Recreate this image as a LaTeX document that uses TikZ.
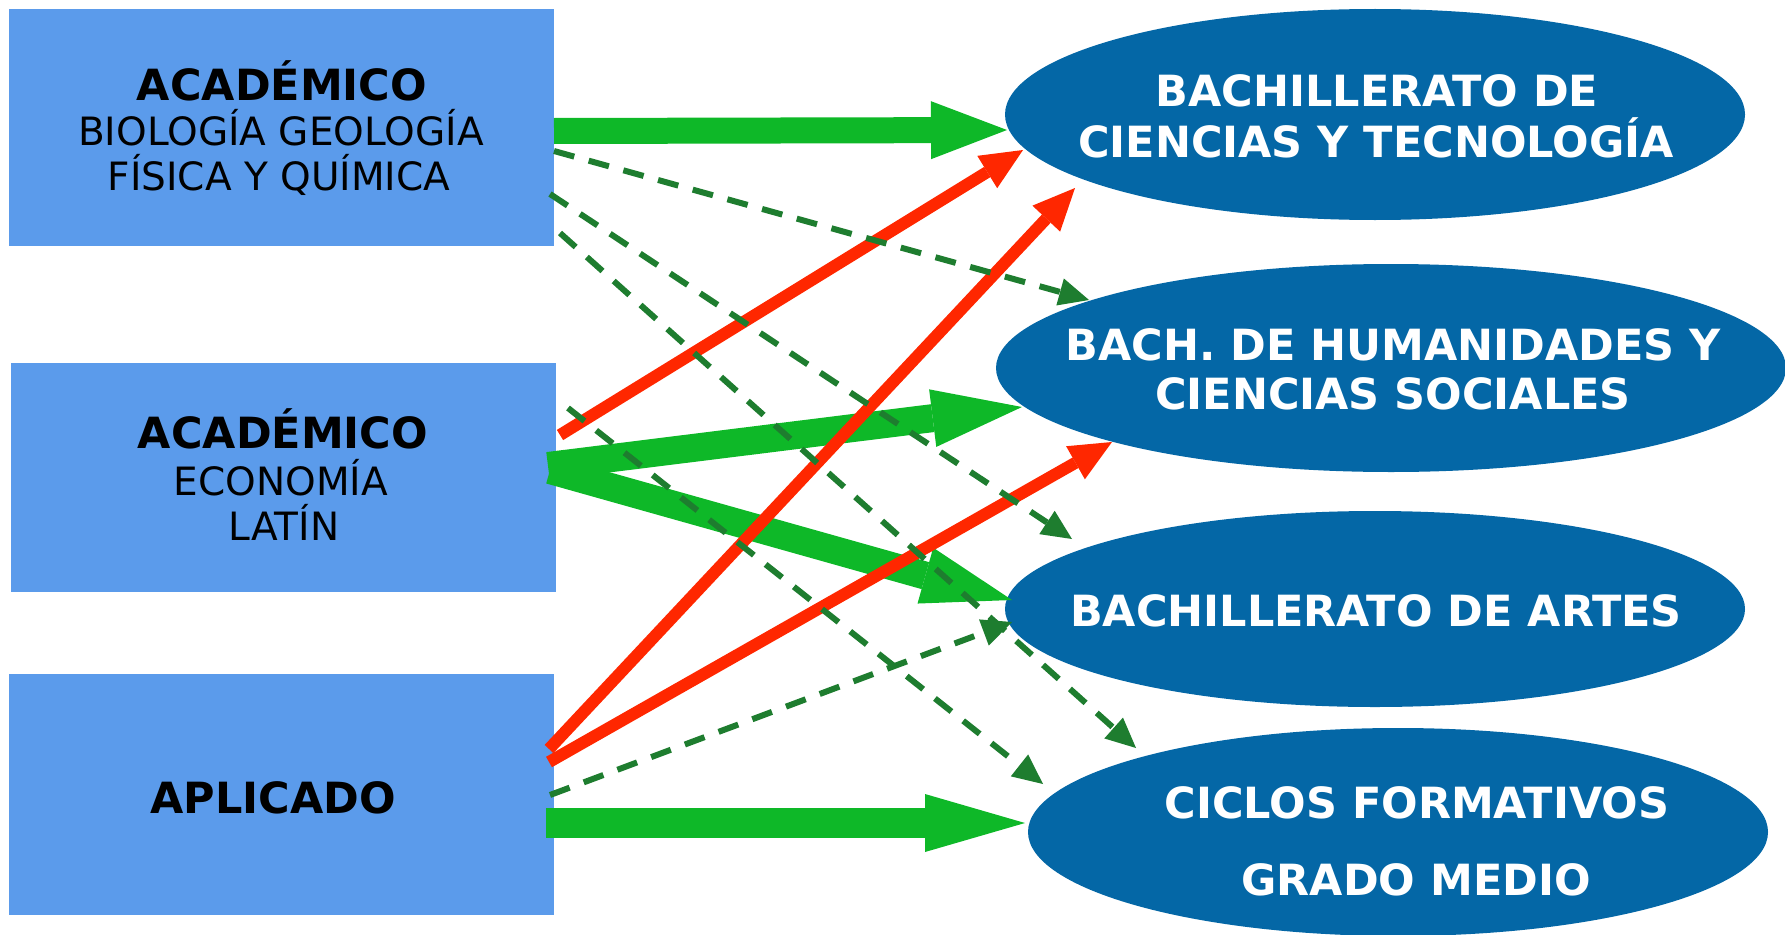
\documentclass[tikz,border=0pt]{standalone}
\usepackage{fontspec}
\setmainfont{DejaVu Sans}
\usetikzlibrary{arrows.meta,shapes.geometric}
\definecolor{boxblue}{RGB}{91,155,235}
\definecolor{ellblue}{RGB}{4,103,166}
\definecolor{arrred}{RGB}{255,39,0}
\definecolor{dashgreen}{RGB}{30,125,47}
\definecolor{thickgreen}{RGB}{14,184,40}
\begin{document}
\begin{tikzpicture}[x=1pt,y=-1pt,
  boxnode/.style={rectangle, fill=boxblue, inner sep=0pt, outer sep=0pt},
  ellnode/.style={ellipse, fill=ellblue, inner sep=0pt, outer sep=0pt},
  titletext/.style={anchor=base, inner sep=0pt, font=\fontsize{43}{45}\selectfont\bfseries},
  subtext/.style={anchor=base, inner sep=0pt, font=\fontsize{39}{45}\selectfont},
  elltext/.style={anchor=base, inner sep=0pt, text=white, font=\fontsize{43}{50}\selectfont\bfseries},
  thickarrow/.style={draw=thickgreen, line width=28pt, -{Triangle[length=#1,width=58pt,line width=0pt]}},
  thickarrow/.default=90pt,
  redarrow/.style={draw=arrred, line width=12pt, -{Triangle[length=42pt,width=38pt,line width=0pt]}},
  dasharrow/.style={draw=dashgreen, line width=6pt, dash pattern=on 21pt off 15pt, -{Triangle[length=30pt,width=28pt,line width=0pt]}}
]
\useasboundingbox (0,0) rectangle (1785,934);

% boxes
\node[boxnode, minimum width=545pt, minimum height=237pt] (b1) at (281.5,127.5) {};
\node[boxnode, minimum width=545pt, minimum height=229pt] (b2) at (283.5,477.5) {};
\node[boxnode, minimum width=545pt, minimum height=241pt] (b3) at (281.5,794.5) {};

% ellipses
\node[ellnode, minimum width=740pt, minimum height=211pt] (e1) at (1375,114.5) {};
\node[ellnode, minimum width=790pt, minimum height=208pt] (e2) at (1391,368) {};
\node[ellnode, minimum width=740pt, minimum height=196pt] (e3) at (1375,609) {};
\node[ellnode, minimum width=740pt, minimum height=208pt] (e4) at (1398,832) {};

% box texts
\node[titletext] (b1t1) at (282,100) {ACADÉMICO};
\node[subtext] (b1t2) at (281,145) {BIOLOGÍA GEOLOGÍA};
\node[subtext] (b1t3) at (279,190) {FÍSICA Y QUÍMICA};
\node[titletext] (b2t1) at (283,448) {ACADÉMICO};
\node[subtext] (b2t2) at (281,495) {ECONOMÍA};
\node[subtext] (b2t3) at (284,540) {LATÍN};
\node[titletext] (b3t1) at (273,813) {APLICADO};

% ellipse texts
\node[elltext] (e1t1) at (1377,106) {BACHILLERATO DE};
\node[elltext] (e1t2) at (1376,157) {CIENCIAS Y TECNOLOGÍA};
\node[elltext] (e2t1) at (1393,360) {BACH. DE HUMANIDADES Y};
\node[elltext] (e2t2) at (1393,409) {CIENCIAS SOCIALES};
\node[elltext] (e3t1) at (1376,626) {BACHILLERATO DE ARTES};
\node[elltext] (e4t1) at (1417,818) {CICLOS FORMATIVOS};
\node[elltext] (e4t2) at (1416,895) {GRADO MEDIO};

% thick green arrows
\draw[thickarrow=76pt, line width=26pt] ([yshift=-3.5pt]b1.east) -- ([xshift=-368pt,yshift=-15.5pt]e1.center);
\draw[thickarrow] ([xshift=-8pt,yshift=11.5pt]b2.east) -- ([xshift=-369pt,yshift=-39pt]e2.center);
\draw[thickarrow] ([xshift=-6pt,yshift=7.5pt]b2.east) -- ([xshift=-363pt,yshift=9pt]e3.center);
\draw[thickarrow=100pt, line width=30pt] ([xshift=-8pt,yshift=-28.5pt]b3.east) -- ([xshift=-373pt,yshift=9pt]e4.center);

% red arrows
\draw[redarrow] ([xshift=4pt,yshift=42.5pt]b2.east) -- ([xshift=-352pt,yshift=-35.5pt]e1.center);
\draw[redarrow] ([xshift=-5pt,yshift=45.5pt]b3.east) -- ([xshift=-300pt,yshift=-73.5pt]e1.center);
\draw[redarrow] ([xshift=-5pt,yshift=32.5pt]b3.east) -- ([xshift=-279pt,yshift=-74pt]e2.center);

% dashed green arrows
\draw[dasharrow] ([yshift=-23.5pt]b1.east) -- ([xshift=-302pt,yshift=68pt]e2.center);
\draw[dasharrow] ([xshift=-4pt,yshift=-66.5pt]b1.east) -- ([xshift=-303pt,yshift=70pt]e3.center);
\draw[dasharrow] ([xshift=6pt,yshift=-105.5pt]b1.east) -- ([xshift=-262pt,yshift=84pt]e4.center);
\draw[dasharrow] ([xshift=12pt,yshift=69.5pt]b2.east) -- ([xshift=-355pt,yshift=48pt]e4.center);
\draw[dasharrow] ([xshift=-4pt,yshift=-0.5pt]b3.east) -- ([xshift=-363pt,yshift=-13pt]e3.center);
\end{tikzpicture}
\end{document}
